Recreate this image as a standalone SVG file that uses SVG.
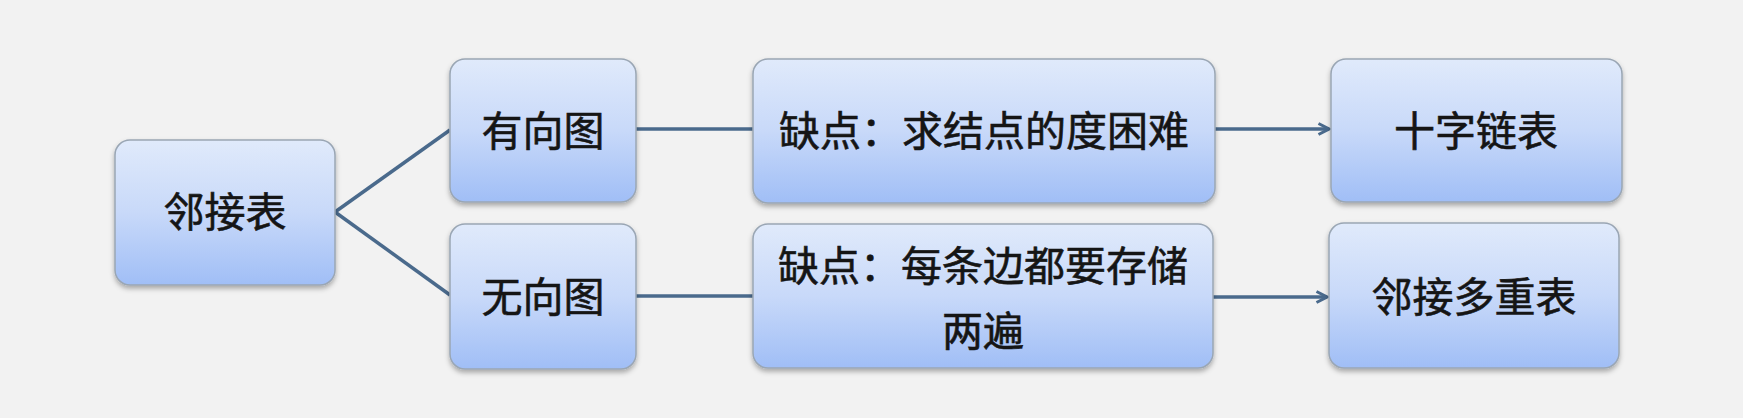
<svg xmlns="http://www.w3.org/2000/svg" width="1743" height="418" viewBox="0 0 1743 418">
<defs>
<linearGradient id="g" x1="0" y1="0" x2="0" y2="1">
<stop offset="0" stop-color="#e0eafb"/>
<stop offset="0.5" stop-color="#c8d9f9"/>
<stop offset="1" stop-color="#a0bef6"/>
</linearGradient>
<filter id="sh" x="-10%" y="-10%" width="120%" height="130%">
<feDropShadow dx="0" dy="3" stdDeviation="2.5" flood-color="#000" flood-opacity="0.3"/>
</filter>
<marker id="ar" viewBox="0 0 14 14" refX="12.5" refY="7" markerWidth="14" markerHeight="14" markerUnits="userSpaceOnUse" orient="auto">
<path d="M2,1.5 L12.5,7 L2,12.5" fill="none" stroke="#4a6a8c" stroke-width="3"/>
</marker>
</defs>
<style>
.box{fill:url(#g);stroke:#9aa6b4;stroke-width:1.5;filter:url(#sh)}
.t{font-family:"Liberation Sans","Noto Sans CJK SC",sans-serif;font-size:41px;font-weight:normal;fill:#151515;stroke:#151515;stroke-width:0.6;text-anchor:middle}
.c{stroke:#4a6a8c;stroke-width:3.5;fill:none}
</style>
<rect width="1743" height="418" fill="#f2f2f2"/>
<g id="connectors">
<path class="c" d="M335,212 L450,130"/>
<path class="c" d="M335,212 L450,295"/>
<path class="c" d="M636,129 L753,129"/>
<path class="c" d="M636,296 L753,296"/>
<path class="c" d="M1215,129 L1329,129" marker-end="url(#ar)"/>
<path class="c" d="M1213,297 L1327,297" marker-end="url(#ar)"/>
</g>
<g id="n1"><rect class="box" x="115" y="140" width="220" height="145" rx="15"/><text class="t" x="225" y="227">邻接表</text></g>
<g id="n2"><rect class="box" x="450" y="59" width="186" height="143" rx="15"/><text class="t" x="543" y="146">有向图</text></g>
<g id="n3"><rect class="box" x="450" y="224" width="186" height="145" rx="15"/><text class="t" x="543" y="312">无向图</text></g>
<g id="n4"><rect class="box" x="753" y="59" width="462" height="144" rx="15"/><text class="t" x="984" y="146">缺点：求结点的度困难</text></g>
<g id="n5"><rect class="box" x="753" y="224" width="460" height="144" rx="15"/><text class="t" x="983" y="281">缺点：每条边都要存储</text><text class="t" x="983" y="346">两遍</text></g>
<g id="n6"><rect class="box" x="1331" y="59" width="291" height="143" rx="15"/><text class="t" x="1476" y="146">十字链表</text></g>
<g id="n7"><rect class="box" x="1329" y="223" width="290" height="145" rx="15"/><text class="t" x="1474" y="312">邻接多重表</text></g>
</svg>
